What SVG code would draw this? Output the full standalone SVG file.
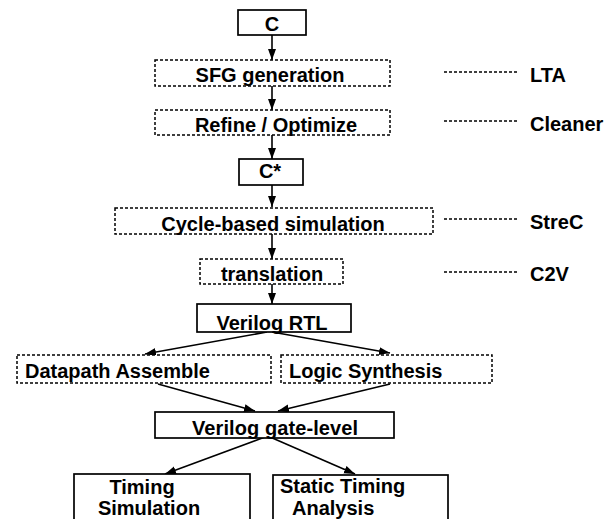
<svg xmlns="http://www.w3.org/2000/svg" width="608" height="519" viewBox="0 0 608 519">
  <style>
    .solid { fill: #fff; stroke: #000; stroke-width: 1.7; }
    .dash { fill: #fff; stroke: #000; stroke-width: 1.5; stroke-dasharray: 3 2; }
    .lbl { font-family: "Liberation Sans", Arial, sans-serif; font-weight: bold; font-size: 20px; fill: #000; }
    .mid { text-anchor: middle; }
    .edge { stroke: #000; stroke-width: 1.6; fill: none; marker-end: url(#head); }
    .tie { stroke: #000; stroke-width: 1.5; stroke-dasharray: 3 2; fill: none; }
  </style>
  <defs>
    <marker id="head" markerUnits="userSpaceOnUse" markerWidth="13" markerHeight="9" refX="11" refY="4" orient="auto">
      <path d="M0,0 L11,4 L0,8 Z" fill="#000"/>
    </marker>
  </defs>
  <rect width="608" height="519" fill="#fff"/>

  <!-- flow connectors -->
  <g id="connectors">
    <line class="edge" x1="272" y1="35" x2="272" y2="60"/>
    <line class="edge" x1="272" y1="86" x2="272" y2="110"/>
    <line class="edge" x1="272" y1="135" x2="272" y2="159"/>
    <line class="edge" x1="272" y1="185" x2="272" y2="207"/>
    <line class="edge" x1="272" y1="234" x2="272" y2="259"/>
    <line class="edge" x1="272" y1="284" x2="272" y2="304"/>
    <line class="edge" x1="267" y1="332" x2="145" y2="354"/>
    <line class="edge" x1="272" y1="332" x2="390" y2="353"/>
    <line class="edge" x1="158" y1="384" x2="255" y2="411"/>
    <line class="edge" x1="390" y1="384" x2="278" y2="411"/>
    <line class="edge" x1="265" y1="437" x2="165" y2="474"/>
    <line class="edge" x1="270" y1="437" x2="355" y2="474"/>
    <!-- tool annotations -->
    <line class="tie" x1="444" y1="72" x2="519" y2="72"/>
    <line class="tie" x1="444" y1="121" x2="519" y2="121"/>
    <line class="tie" x1="444" y1="219" x2="519" y2="219"/>
    <line class="tie" x1="444" y1="272" x2="519" y2="272"/>
  </g>

  <g id="n-c">
    <rect class="solid" x="238" y="10" width="68" height="25"/>
    <text class="lbl mid" x="272" y="31">C</text>
  </g>
  <g id="n-sfg">
    <rect class="dash" x="155" y="60" width="235" height="26"/>
    <text class="lbl mid" x="270" y="82">SFG generation</text>
  </g>
  <g id="n-refine">
    <rect class="dash" x="155" y="110" width="235" height="25"/>
    <text class="lbl mid" x="276" y="132">Refine / Optimize</text>
  </g>
  <g id="n-cstar">
    <rect class="solid" x="239" y="159" width="64" height="26"/>
    <text class="lbl mid" x="270" y="178">C*</text>
  </g>
  <g id="n-cycle">
    <rect class="dash" x="115" y="208" width="318" height="26"/>
    <text class="lbl mid" x="273" y="231">Cycle-based simulation</text>
  </g>
  <g id="n-translation">
    <rect class="dash" x="200" y="259" width="143" height="25"/>
    <text class="lbl mid" x="272" y="281">translation</text>
  </g>
  <g id="n-rtl">
    <rect class="solid" x="197" y="304" width="154" height="28"/>
    <text class="lbl mid" x="272" y="330">Verilog RTL</text>
  </g>
  <g id="n-datapath">
    <rect class="dash" x="17" y="355" width="254" height="28"/>
    <text class="lbl" x="25" y="378">Datapath Assemble</text>
  </g>
  <g id="n-logic">
    <rect class="dash" x="281" y="355" width="211" height="28"/>
    <text class="lbl" x="289" y="378">Logic Synthesis</text>
  </g>
  <g id="n-gate">
    <rect class="solid" x="155" y="412" width="239" height="26"/>
    <text class="lbl mid" x="275" y="435" textLength="166">Verilog gate-level</text>
  </g>
  <g id="n-timing">
    <rect class="solid" x="74" y="474" width="176" height="52"/>
    <text class="lbl mid" x="142" y="494">Timing</text>
    <text class="lbl mid" x="149" y="515">Simulation</text>
  </g>
  <g id="n-sta">
    <rect class="solid" x="273" y="475" width="175" height="52"/>
    <text class="lbl" x="280" y="493">Static Timing</text>
    <text class="lbl" x="292" y="515">Analysis</text>
  </g>

  <g id="tools">
    <text class="lbl" x="530" y="82">LTA</text>
    <text class="lbl" x="530" y="131">Cleaner</text>
    <text class="lbl" x="530" y="229">StreC</text>
    <text class="lbl" x="530" y="281">C2V</text>
  </g>
</svg>
